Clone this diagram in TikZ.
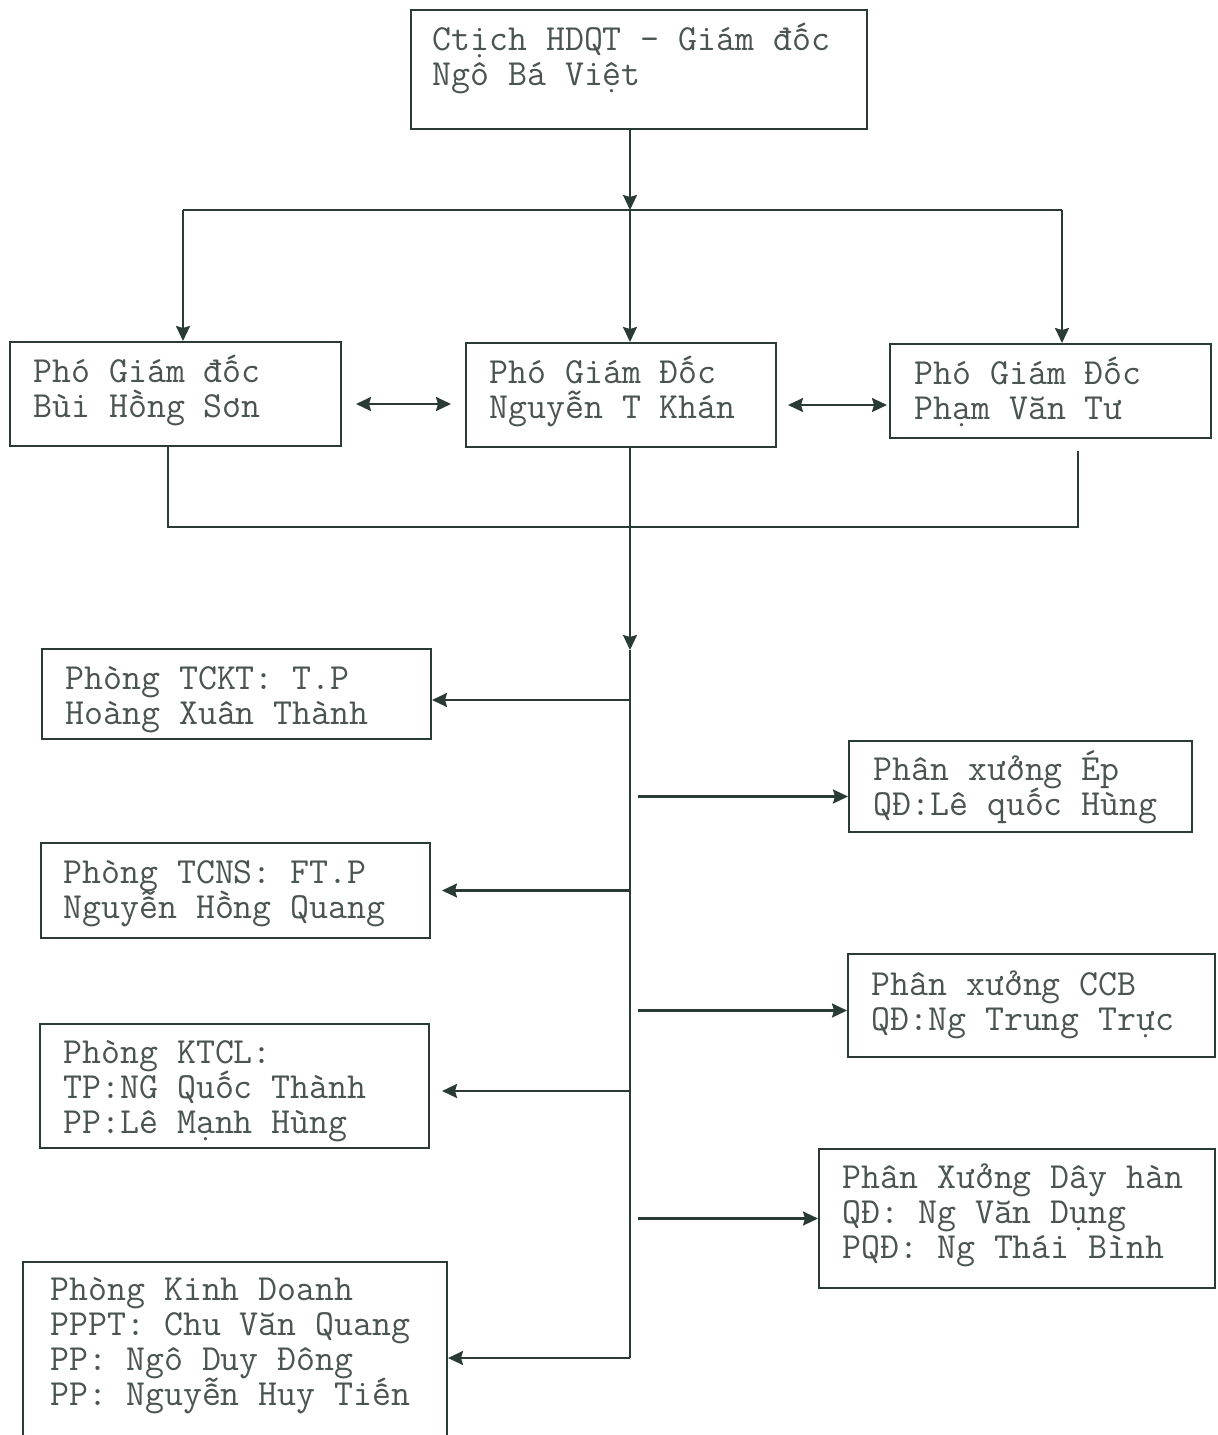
\documentclass[tikz,border=0pt]{standalone}
\usepackage{fontspec}
\usetikzlibrary{arrows.meta,fit,calc}
\definecolor{inkline}{HTML}{2A3B36}
\definecolor{inktext}{HTML}{4A5451}

\begin{document}
\begin{tikzpicture}[x=0.5pt, y=-0.5pt,
	box/.style={draw=inkline, line width=1pt, inner sep=0pt},
	txt/.style={anchor=base west, inner sep=0pt, text width=230pt, align=left, text=inktext,
		font=\ttfamily\fontsize{18.4}{17.5}\selectfont,
		execute at begin node={\fontsize{18.4}{17.5}\selectfont\frenchspacing\lineskiplimit=-20pt
			\spaceskip=\fontdimen2\font\xspaceskip=\fontdimen2\font\relax}},
	link/.style={draw=inkline, line width=1.1pt},
	arr/.style={link, -{Stealth[length=7.5pt,width=7pt,inset=1pt]}},
	dbl/.style={link, {Stealth[length=7.5pt,width=7pt,inset=1pt]}-{Stealth[length=7.5pt,width=7pt,inset=1pt]}}]
			%%%%% START %%%%%
			
			\useasboundingbox (0,0) rectangle (1217,1435);
			
			%%%%% BOXES %%%%%
			\node[box, fit={(411,10) (867,129)}] (gd) {};
			\node[txt] (gd-t) at (432,50) {Ctịch HDQT - Giám đốc\\Ngô Bá Việt};
			
			\node[box, fit={(10,342) (341,446)}] (pgd1) {};
			\node[txt] (pgd1-t) at (33,382) {Phó Giám đốc\\Bùi Hồng Sơn};
			\node[box, fit={(466,343) (776,447)}] (pgd2) {};
			\node[txt] (pgd2-t) at (489,383) {Phó Giám Đốc\\Nguyễn T Khán};
			\node[box, fit={(890,344) (1211,438)}] (pgd3) {};
			\node[txt] (pgd3-t) at (914,384) {Phó Giám Đốc\\Phạm Văn Tư};
			
			\node[box, fit={(42,649) (431,739)}] (tckt) {};
			\node[txt] (tckt-t) at (65,689) {Phòng TCKT: T.P\\Hoàng Xuân Thành};
			\node[box, fit={(41,843) (430,938)}] (tcns) {};
			\node[txt] (tcns-t) at (63,883) {Phòng TCNS: FT.P\\Nguyễn Hồng Quang};
			\node[box, fit={(40,1024) (429,1148)}] (ktcl) {};
			\node[txt] (ktcl-t) at (63,1063) {Phòng KTCL:\\TP:NG Quốc Thành\\PP:Lê Mạnh Hùng};
			\node[box, fit={(23,1262) (447,1460)}] (kd) {};
			\node[txt] (kd-t) at (50,1300) {Phòng Kinh Doanh\\PPPT: Chu Văn Quang\\PP: Ngô Duy Đông\\PP: Nguyễn Huy Tiến};
			
			\node[box, fit={(849,741) (1192,832)}] (xep) {};
			\node[txt] (xep-t) at (873,780) {Phân xưởng Ép\\QĐ:Lê quốc Hùng};
			\node[box, fit={(848,954) (1215,1057)}] (xccb) {};
			\node[txt] (xccb-t) at (871,995) {Phân xưởng CCB\\QĐ:Ng Trung Trực};
			\node[box, fit={(819,1149) (1215,1288)}] (xdh) {};
			\node[txt] (xdh-t) at (842,1188) {Phân Xưởng Dây hàn\\QĐ: Ng Văn Dụng\\PQĐ: Ng Thái Bình};
			
			%%%%% TOP %%%%%
			\coordinate (split) at (630,210);
			\coordinate (splitL) at (183,210);
			\coordinate (splitR) at (1062,210);
			\draw[arr] (gd.south -| split) -- (split);
			\draw[link] (splitL) -- (splitR);
			\draw[arr] (splitL) -- (splitL |- pgd1.north);
			\draw[arr] (split) -- (split |- pgd2.north);
			\draw[arr] (splitR) -- (splitR |- pgd3.north);
			
			\draw[dbl, shorten <=7pt, shorten >=7pt] ($(pgd1.east)+(0,10)$) -- ($(pgd2.west |- pgd1.east)+(0,10)$);
			\draw[dbl, shorten <=5.5pt, shorten >=1pt] ($(pgd2.east)+(0,10)$) -- ($(pgd3.west |- pgd2.east)+(0,10)$);
			
			%%%%% JOIN %%%%%
			\coordinate (joinL) at (168,527);
			\coordinate (join) at (630,527);
			\coordinate (joinR) at (1078,527);
			\draw[link] (joinL |- pgd1.south) -- (joinL) -- (joinR) -- ($(joinR |- pgd3.south)+(0,12)$);
			\draw[link] (join |- pgd2.south) -- (join);
			
			\coordinate (trunk) at (630,650);
			\coordinate (trunkEnd) at (630,1358);
			\draw[arr] (join) -- (trunk);
			\draw[link] (trunk) -- (trunkEnd);
			
			%%%%% BRANCHES %%%%%
			\draw[arr] ($(tckt.east -| trunk)+(0,6)$) -- ($(tckt.east)+(0,6)$);
			\draw[arr, shorten >=5.5pt] (tcns.east -| trunk) -- (tcns.east);
			\draw[arr, shorten >=6pt] ($(ktcl.east -| trunk)+(0,5)$) -- ($(ktcl.east)+(0,5)$);
			\draw[arr] (trunkEnd) -- (trunkEnd -| kd.east);
			
			\draw[arr, shorten <=4pt] ($(xep.west -| trunk)+(0,10)$) -- ($(xep.west)+(0,10)$);
			\draw[arr, shorten <=4pt] ($(xccb.west -| trunk)+(0,5)$) -- ($(xccb.west)+(0,5)$);
			\draw[arr, shorten <=4pt] (xdh.west -| trunk) -- (xdh.west);
			
			%%%%% END %%%%%
\end{tikzpicture}
\end{document}
